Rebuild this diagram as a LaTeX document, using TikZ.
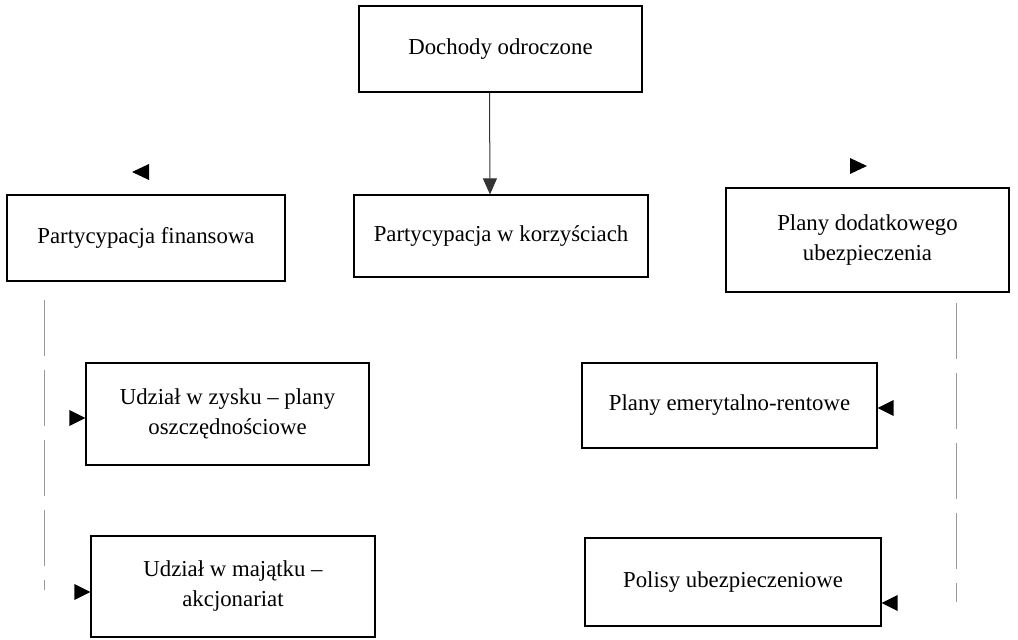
\documentclass[tikz,border=0pt]{standalone}
\usepackage{fontspec}
\setmainfont{Liberation Serif}
\usetikzlibrary{arrows.meta}
\begin{document}
\begin{tikzpicture}[x=0.5pt,y=-0.5pt,
  box/.style={draw=black,line width=0.6pt,inner sep=0pt,align=center,
    font=\fontsize{11.4}{14.5}\selectfont},
  twoline/.style={font=\fontsize{11.4}{15}\selectfont},
  arr/.style={draw=black!80,line width=0.5pt,-{Triangle[length=8pt,width=7pt]}},
  dashline/.style={draw=black!40,line width=0.5pt,dash pattern=on 28pt off 7pt},
  head/.style={fill=black}]
\useasboundingbox (0,0) rectangle (1018,640);
% boxes
\node[box,minimum width=141.5pt,minimum height=43pt] (doch) at (500.5,49) {Dochody odroczone};
\node[box,minimum width=147pt,minimum height=41pt] (korz) at (501,236) {Partycypacja w korzyściach};
\node[box,minimum width=139pt,minimum height=43pt] (fin) at (146,238) {Partycypacja finansowa};
\node[box,twoline,minimum width=141.5pt,minimum height=52pt] (dod) at (867.5,240) {Plany dodatkowego\\ubezpieczenia};
\node[box,twoline,minimum width=141.5pt,minimum height=51pt] (zysk) at (227.5,414) {Udział w zysku -- plany\\oszczędnościowe};
\node[box,twoline,minimum width=142pt,minimum height=50.5pt] (maj) at (233,586.5) {Udział w majątku --\\akcjonariat};
\node[box,minimum width=147.5pt,minimum height=42.5pt] (emer) at (729.5,405.5) {Plany emerytalno-rentowe};
\node[box,minimum width=148pt,minimum height=44pt] (pol) at (733,582) {Polisy ubezpieczeniowe};
% main arrow
\draw[arr] ([xshift=-5.5pt]doch.south) -- ([xshift=-5.5pt]korz.north);
% faint vertical lines
\coordinate (l1) at (44,300);
\coordinate (l2) at (44,590);
\coordinate (r1) at (956,303);
\coordinate (r2) at (956,602);
\draw[dashline] (l1) -- (l2);
\draw[dashline] (r1) -- (r2);
% arrowheads without visible shafts
\coordinate (tl) at (132,172);
\coordinate (tr) at (867,166);
\fill[head] (tl) -- ++(17,-8) -- ++(0,16) -- cycle;
\fill[head] (tr) -- ++(-17,-8) -- ++(0,16) -- cycle;
\fill[head] (zysk.west |- 0,418) -- ++(-16,-8) -- ++(0,16) -- cycle;
\fill[head] (maj.west |- 0,592) -- ++(-16,-8) -- ++(0,16) -- cycle;
\fill[head] (emer.east |- 0,408) -- ++(16,-8) -- ++(0,16) -- cycle;
\fill[head] (pol.east |- 0,603) -- ++(16,-8) -- ++(0,16) -- cycle;
\end{tikzpicture}
\end{document}
